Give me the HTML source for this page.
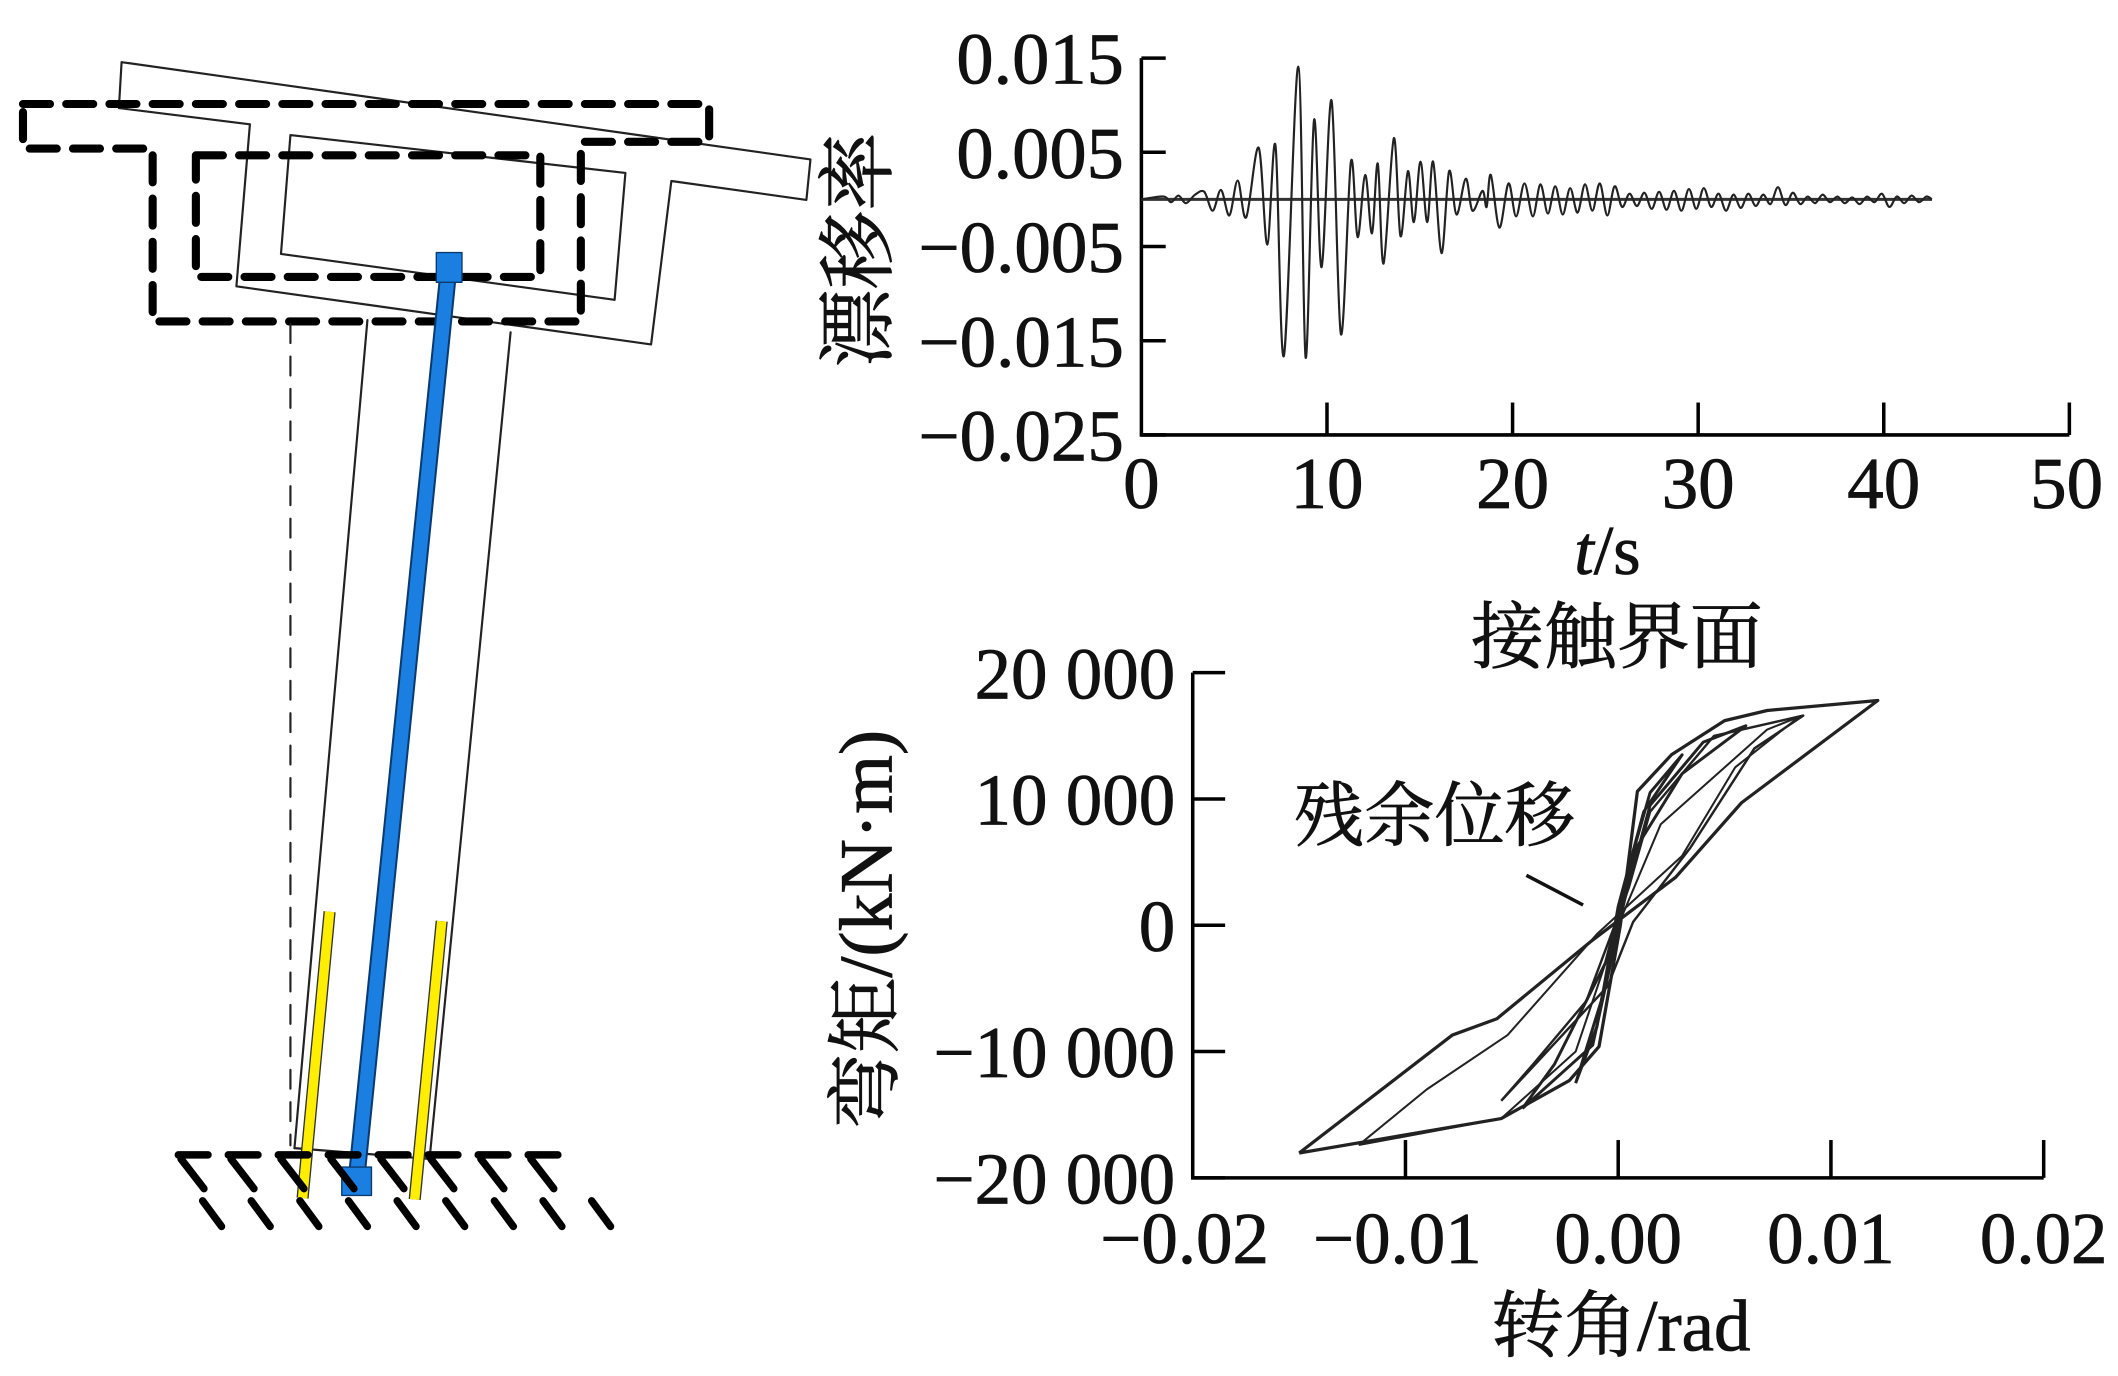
<!DOCTYPE html>
<html><head><meta charset="utf-8"><style>
html,body{margin:0;padding:0;background:#fff;}
svg{display:block;}
text{font-family:"Liberation Serif","Noto Serif CJK SC","Noto Sans CJK SC",serif;fill:#111;stroke:#111;stroke-width:0.6;}
</style></head><body>
<svg id="root" width="2118" height="1376" viewBox="0 0 1568 1018.7" xmlns="http://www.w3.org/2000/svg">
<rect width="1568" height="1018.7" fill="#fff"/>
<g id="drawing" fill="none" stroke-linecap="round" stroke-linejoin="round">
  <path d="M90,46 L600,118 L597,148 L497,134 L482,255 L175,212 L185,92 L88,80 Z" stroke="#222" stroke-width="1.6"/>
  <path d="M215,100 L463,128 L455,222 L208,188 Z" stroke="#222" stroke-width="1.6"/>
  <path d="M17,77 L525,77 L525,105 L430,105 L430,238 L113,238 L113,110 L17,110 Z" stroke="#000" stroke-width="6" stroke-dasharray="20,12"/>
  <path d="M145,115 L400,115 L400,205 L145,205 Z" stroke="#000" stroke-width="6" stroke-dasharray="20,12"/>
  <line x1="215" y1="240" x2="215" y2="848" stroke="#222" stroke-width="1.6" stroke-dasharray="14,10"/>
  <line x1="272" y1="237" x2="218" y2="850" stroke="#222" stroke-width="1.6"/>
  <line x1="378" y1="246" x2="318" y2="858" stroke="#222" stroke-width="1.6"/>
  <line x1="218" y1="850" x2="318" y2="858" stroke="#222" stroke-width="1.6"/>
  <line x1="332" y1="200" x2="264" y2="872" stroke="#0a3a70" stroke-width="13"/>
  <line x1="332" y1="200" x2="264" y2="872" stroke="#1a7fe0" stroke-width="10"/>
  <rect x="323" y="187" width="19" height="22" fill="#1a7fe0" stroke="#0a3a70" stroke-width="1"/>
  <rect x="253" y="864" width="22" height="21" fill="#1a7fe0" stroke="#0a3a70" stroke-width="1"/>
  <line x1="244" y1="675" x2="224" y2="887" stroke="#333" stroke-width="9" stroke-linecap="butt"/>
  <line x1="244" y1="675" x2="224" y2="887" stroke="#ffee00" stroke-width="7" stroke-linecap="butt"/>
  <line x1="327" y1="682" x2="307" y2="888" stroke="#333" stroke-width="9" stroke-linecap="butt"/>
  <line x1="327" y1="682" x2="307" y2="888" stroke="#ffee00" stroke-width="7" stroke-linecap="butt"/>
  <g id="ground" stroke="#000" stroke-width="5.5"></g>
</g>
<g id="topchart"></g>
<g id="botchart"></g>
</svg>
<script>
// ---- drift time history data ----
const driftT = [0,1.2,1.6,2.0,2.4,2.9,3.39,3.84,4.29,4.74,5.19,5.65,6.32,6.78,7.23,7.68,8.45,8.85,9.30,9.71,10.25,10.75,11.29,11.65,12.06,12.42,12.74,13.05,13.60,13.96,14.36,14.68,15.04,15.40,15.72,16.17,16.58,16.98,17.48,17.84,18.38,18.6,18.83,19.29,19.78,20.19,20.64,21.09,21.5,21.9,22.3,22.7,23.1,23.5,23.9,24.3,24.7,25.1,25.5,25.9,26.3,26.7,27.1,27.5,27.9,28.3,28.7,29.1,29.5,29.9,30.3,30.7,31.1,31.5,31.9,32.3,32.7,33.1,33.5,33.9,34.3,34.7,35.1,35.5,35.9,36.3,36.7,37.1,37.5,37.9,38.3,38.7,39.1,39.5,39.9,40.3,40.7,41.1,41.5,41.9,42.3,42.6];
const driftV = [0,0.0003,-0.0003,0.0004,-0.0004,0.0005,0.0008,-0.0012,0.001,-0.0017,0.002,-0.0019,0.0055,-0.0048,0.0057,-0.0166,0.0141,-0.0168,0.0084,-0.0072,0.0105,-0.0143,0.004,-0.004,0.0026,-0.0036,0.0038,-0.0068,0.0065,-0.0039,0.003,-0.0024,0.004,-0.0024,0.004,-0.0057,0.003,-0.0016,0.0022,-0.0012,0.0009,-0.0008,0.0026,-0.0030,0.0017,-0.0018,0.0017,-0.0018,0.0016,-0.0015,0.0014,-0.0016,0.0012,-0.0014,0.0016,-0.0012,0.0017,-0.0017,0.0014,-0.0008,0.0006,-0.0007,0.0007,-0.0010,0.0008,-0.0011,0.0009,-0.0012,0.0011,-0.0010,0.0012,-0.0008,0.0006,-0.0012,0.0005,-0.0009,0.0006,-0.0007,0.0005,-0.0005,0.0013,-0.0006,0.0007,-0.0005,0.0003,-0.0004,0.0005,-0.0003,0.0003,-0.0004,0.0002,-0.0005,0.0003,-0.0003,0.0006,-0.0008,0.0003,-0.0004,0.0004,-0.0003,0.0003,0];
const driftXTicks = [0,10,20,30,40,50];
const driftYTicks = [0.015,0.005,-0.005,-0.015,-0.025];
const driftYLabels = ["0.015","0.005","\u22120.005","\u22120.015","\u22120.025"];
// ---- hysteresis data ----
const loopA_rad = [-0.0150,-0.0055,-0.0023,-0.0009,0.0001,0.0009,0.0025,0.0050,0.0070,0.0122,0.0058,0.0027,0.0005,-0.0013,-0.0057,-0.0078,-0.0150];
const loopA_M = [-18030,-15300,-12300,-9600,0,10600,13500,16200,17000,17800,9700,3800,1000,-1300,-7400,-8700,-18030];
const loopB_rad = [-0.0122,-0.0090,-0.0052,-0.0010,0.0030,0.0055,0.0085,0.0070,0.0020,0.0000,-0.0020,-0.0055,-0.0122];
const loopB_M = [-17400,-13000,-8700,-700,5500,12500,16500,15500,8000,0,-10000,-15300,-17400];
const loopC_rad = [-0.0055,-0.0040,-0.0015,0.0005,0.0015,0.0045,0.0087,0.0064,0.0034,0.0007,-0.0005,-0.0055];
const loopC_M = [-13900,-11000,-6000,3000,9000,15000,16600,14000,6150,260,-4850,-13900];
const loopD_rad = [-0.0045,-0.0012,0.0003,0.0015,0.0040,0.0060,0.0030,0.0008,-0.0006,-0.0030,-0.0045];
const loopD_M = [-14500,-9500,2000,9500,14500,15800,12000,6000,-3000,-11000,-14500];
const loopE_rad = [-0.0020,-0.0008,0.0004,0.0015,0.0030,0.0012,0.0000,-0.0010,-0.0020];
const loopE_M = [-12500,-6000,4000,10500,13500,9000,1500,-8000,-12500];
const momXTicks = [-0.02,-0.01,0.00,0.01,0.02];
const momXLabels = ["\u22120.02","\u22120.01","0.00","0.01","0.02"];
const momYTicks = [20000,10000,0,-10000,-20000];
const momYLabels = ["20 000","10 000","0","\u221210 000","\u221220 000"];

const NS="http://www.w3.org/2000/svg";
function mk(tag,parent,attrs,txt){const e=document.createElementNS(NS,tag);for(const k in attrs)e.setAttribute(k,attrs[k]);if(txt!==undefined)e.textContent=txt;parent.appendChild(e);return e;}

// ground hatch
const gG=document.getElementById('ground');
const hatchTop=[132,169,206,243,280,317,354,391];
hatchTop.forEach((x)=>{
  const l=mk('line',gG,{x1:x,y1:855,x2:x+22,y2:855});
  
  
  const d=mk('line',gG,{x1:x+2,y1:858,x2:x+19,y2:880});
  
  
});
[150,186,222,258,294,330,366,402,438].forEach(x=>{
  const d=mk('line',gG,{x1:x,y1:889,x2:x+14,y2:908});
  
  
});

// ---- top chart ----
const topG=document.getElementById('topchart');
const tx=t=>845+(t-0)/50*(1532-845);
const ty=v=>43+(0.015-v)/0.04*(322-43);
const fs=54;
let e;
e=mk('path',topG,{d:`M${tx(0)},${ty(0.015)} V${ty(-0.025)} H${tx(50)}`,fill:'none',stroke:'#000','stroke-width':2.6});


driftYTicks.forEach((v,i)=>{
  let t=mk('line',topG,{x1:tx(0),y1:ty(v),x2:tx(0)+18,y2:ty(v),stroke:'#000','stroke-width':2.6});
  
  
  let l=mk('text',topG,{x:832,y:ty(v)+19,'text-anchor':'end','font-size':fs,textLength:(driftYLabels[i].length>5?152:124),lengthAdjust:'spacingAndGlyphs'},driftYLabels[i]);
  
  
});
driftXTicks.forEach(v=>{
  if(v>0){let t=mk('line',topG,{x1:tx(v),y1:ty(-0.025),x2:tx(v),y2:ty(-0.025)-24,stroke:'#000','stroke-width':2.6});
  
  }
  let l=mk('text',topG,{x:tx(v)+(v==50?-2:0),y:376,'text-anchor':'middle','font-size':fs},String(v));
  
  
});
e=mk('line',topG,{x1:tx(0),y1:ty(0),x2:tx(42.6),y2:ty(0),stroke:'#333','stroke-width':2.2});


function smooth(pts){let d=`M${pts[0][0]},${pts[0][1]}`;for(let i=0;i<pts.length-1;i++){const p0=pts[Math.max(0,i-1)],p1=pts[i],p2=pts[i+1],p3=pts[Math.min(pts.length-1,i+2)];const c1=[p1[0]+(p2[0]-p0[0])/6,p1[1]+(p2[1]-p0[1])/6],c2=[p2[0]-(p3[0]-p1[0])/6,p2[1]-(p3[1]-p1[1])/6];d+=` C${c1[0].toFixed(1)},${c1[1].toFixed(1)} ${c2[0].toFixed(1)},${c2[1].toFixed(1)} ${p2[0].toFixed(1)},${p2[1].toFixed(1)}`;}return d;}
e=mk('path',topG,{d:smooth(driftT.map((t,i)=>[tx(t),ty(driftV[i])])),fill:'none',stroke:'#222','stroke-width':1.6});


e=mk('text',topG,{x:1190,y:425,'text-anchor':'middle','font-size':52});


const ts=mk('tspan',e,{'font-style':'italic'},'t');


e.appendChild(document.createTextNode('/s'));
e=mk('text',topG,{x:0,y:0,'text-anchor':'middle','font-size':58,transform:'translate(655,185) rotate(-90)'},'漂移率');



// ---- bottom chart ----
const botG=document.getElementById('botchart');
const bx=r=>883+(r+0.02)/0.04*(1513-883);
const by=m=>498+(20000-m)/40000*(872-498);
e=mk('text',botG,{x:1197,y:490,'text-anchor':'middle','font-size':54},'接触界面');


e=mk('path',botG,{d:`M${bx(-0.02)},${by(20000)} V${by(-20000)} H${bx(0.02)}`,fill:'none',stroke:'#000','stroke-width':2.6});


momYTicks.forEach((v,i)=>{
  let t=mk('line',botG,{x1:bx(-0.02),y1:by(v),x2:bx(-0.02)+24,y2:by(v),stroke:'#000','stroke-width':2.6});
  
  
  let l=mk('text',botG,{x:870,y:by(v)+19,'text-anchor':'end','font-size':fs},momYLabels[i]);
  
  
});
momXTicks.forEach((v,i)=>{
  if(i>0){let t=mk('line',botG,{x1:bx(v),y1:by(-20000),x2:bx(v),y2:by(-20000)-28,stroke:'#000','stroke-width':2.6});
  
  }
  let l=mk('text',botG,{x:bx(v)-(i==0||i==1?6:0),y:935,'text-anchor':'middle','font-size':fs},momXLabels[i]);
  
  
});
const loops=[[loopA_rad,loopA_M,2.4],[loopB_rad,loopB_M,1.5],[loopC_rad,loopC_M,1.8],[loopD_rad,loopD_M,2.2],[loopE_rad,loopE_M,2.2]];
loops.forEach(([R,M,w])=>{
  let p=mk('polyline',botG,{points:R.map((r,i)=>`${bx(r).toFixed(1)},${by(M[i]).toFixed(1)}`).join(' '),fill:'none',stroke:'#222','stroke-width':w,'stroke-linejoin':'round'});
  
  
});
e=mk('text',botG,{x:1062,y:622,'text-anchor':'middle','font-size':52},'残余位移');


e=mk('line',botG,{x1:1130,y1:648,x2:1172,y2:670,stroke:'#111','stroke-width':2.6});


e=mk('text',botG,{x:1200,y:1000,'text-anchor':'middle','font-size':54},'转角/rad');


e=mk('text',botG,{x:0,y:0,'text-anchor':'middle','font-size':56,transform:'translate(660,688) rotate(-90)'},'弯矩/(kN·m)');


</script>
</body></html>
